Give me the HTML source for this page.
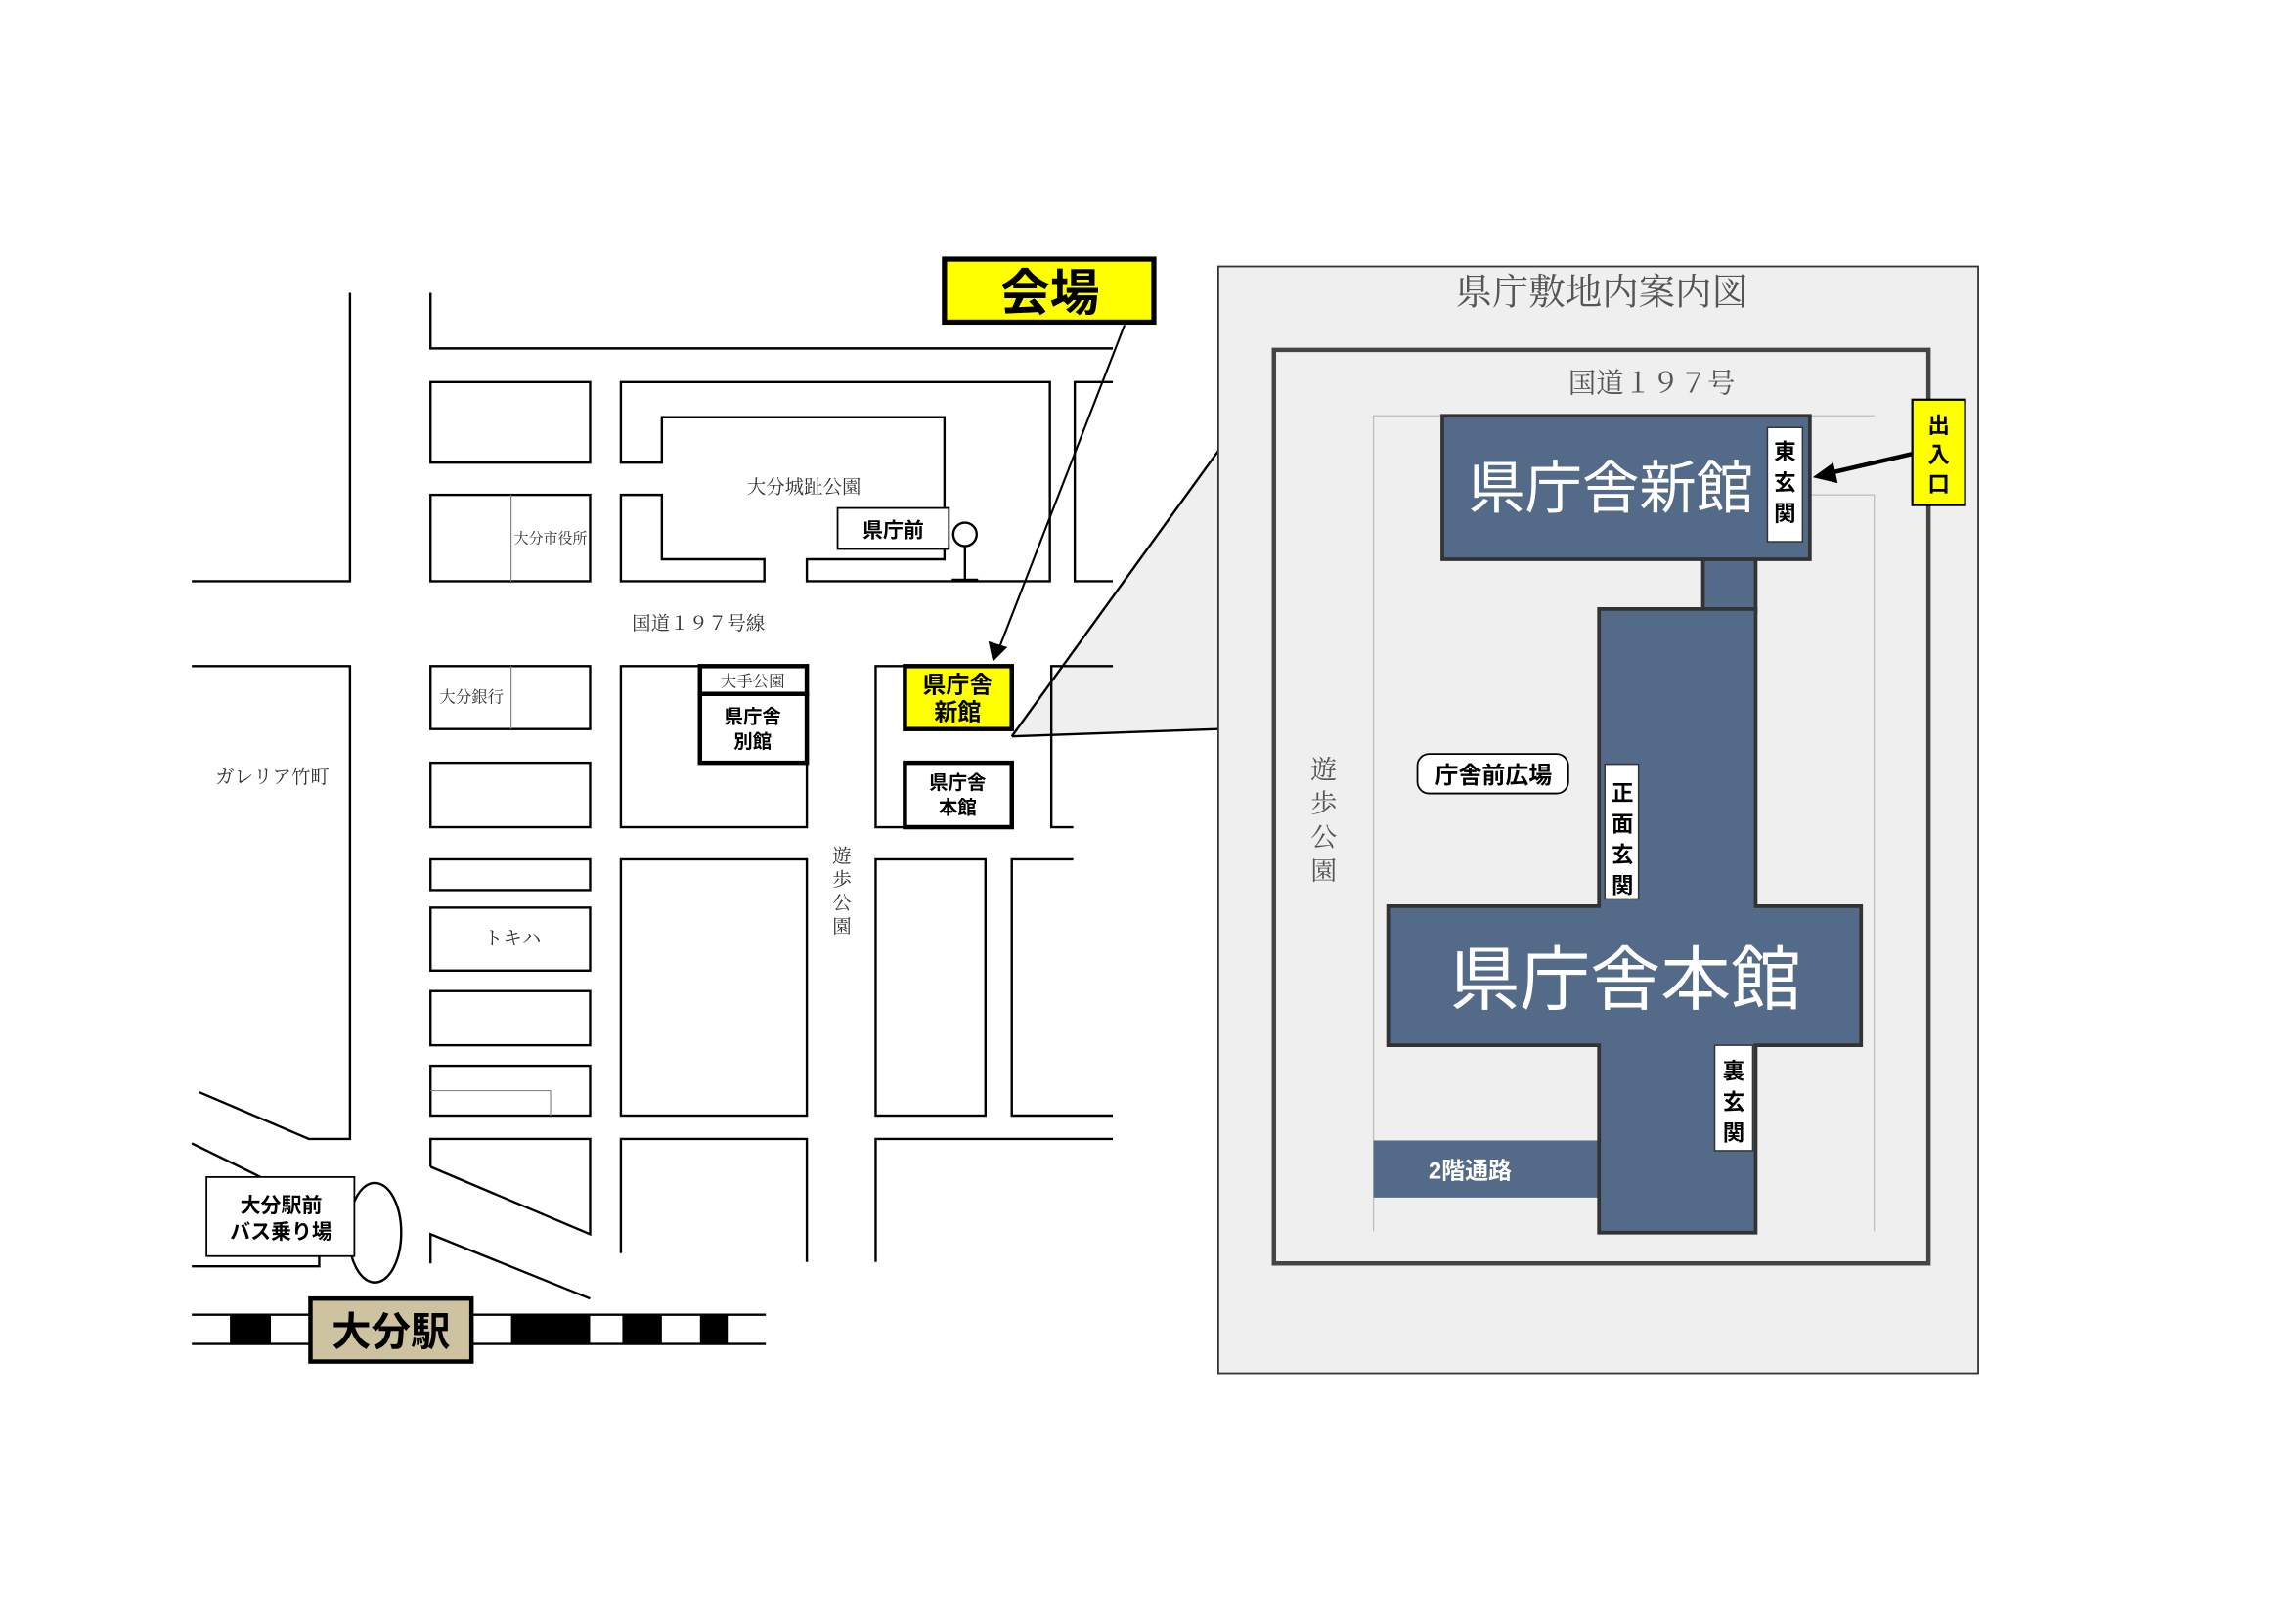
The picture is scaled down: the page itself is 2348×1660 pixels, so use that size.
<!DOCTYPE html>
<html><head><meta charset="utf-8"><style>
html,body{margin:0;padding:0;background:#fff;}
svg{display:block;}
.j{font-family:"Liberation Sans","Noto Sans CJK JP",sans-serif;}
.s{font-family:"Liberation Serif","Noto Serif CJK SC",serif;}
</style></head><body>
<svg width="2348" height="1660" viewBox="0 0 1568 1108.6" preserveAspectRatio="none" xmlns="http://www.w3.org/2000/svg">
<rect width="1568" height="1109" fill="#fff"/>
<polygon points="691,503 832,308 832,498" fill="#efefef"/>
<g fill="none" stroke="#000" stroke-width="1.6">
<polyline points="239,200 239,397 131,397"/>
<polyline points="294,200 294,238 760,238"/>
<rect x="294" y="261" width="109" height="55"/>
<rect x="294" y="338" width="109" height="59"/>
<path d="M424,316 V261 H717 V397 H551 V382 H645 V285 H452 V316 Z"/>
<path d="M424,338 H452 V382 H522 V397 H424 Z"/>
<polyline points="760,261 734,261 734,397 760,397"/>
<polyline points="131,455 239,455 239,778 211,778 136,746"/>
<rect x="294" y="455" width="109" height="43"/>
<rect x="294" y="521" width="109" height="44"/>
<rect x="294" y="587" width="109" height="21"/>
<rect x="294" y="620" width="109" height="43"/>
<rect x="294" y="677" width="109" height="37"/>
<rect x="294" y="728" width="109" height="34"/>
<rect x="424" y="455" width="127" height="110"/>
<rect x="424" y="587" width="127" height="175"/>
<polyline points="618,455 598,455 598,565 618,565"/>
<polyline points="760,455 718,455 718,565 733,565"/>
<rect x="598" y="587" width="75" height="175"/>
<polyline points="733,587 691,587 691,762 760,762"/>
<polyline points="294,797 294,778 403,778 403,843 294,797"/>
<polyline points="294,863 294,843 403,887"/>
<polyline points="424,856 424,778 551,778 551,862"/>
<polyline points="598,862 598,778 760,778"/>
<line x1="131" y1="781" x2="178" y2="804"/>
<polyline points="131,865 218,865 218,858"/>
<ellipse cx="256" cy="842" rx="18" ry="34"/>
<line x1="131" y1="898" x2="523" y2="898"/>
<line x1="131" y1="918" x2="523" y2="918"/>
<line x1="691" y1="503" x2="832" y2="308"/>
<line x1="691" y1="503" x2="832" y2="498"/>
<line x1="659" y1="373" x2="659" y2="396"/>
<line x1="650" y1="396" x2="668" y2="396"/>
<circle cx="659" cy="365" r="8"/>
</g>
<g stroke="#888" stroke-width="0.8" fill="none">
<line x1="349" y1="338" x2="349" y2="397"/>
<line x1="349" y1="455" x2="349" y2="498"/>
<polyline points="294,745 376,745 376,762"/>
</g>
<g fill="#000">
<rect x="157" y="898" width="28" height="20"/>
<rect x="349" y="898" width="54" height="20"/>
<rect x="425" y="898" width="27" height="20"/>
<rect x="478" y="898" width="19" height="20"/>
</g>
<rect x="212" y="887" width="110" height="43" fill="#cdc3a0" stroke="#000" stroke-width="3"/>
<text x="267" y="919" class="j" font-size="27" font-weight="bold" text-anchor="middle">大分駅</text>
<rect x="141" y="804" width="101" height="54" fill="#fff" stroke="#000" stroke-width="1.2"/>
<text x="192" y="828" class="j" font-size="14" font-weight="bold" text-anchor="middle">大分駅前</text>
<text x="192" y="846" class="j" font-size="14" font-weight="bold" text-anchor="middle">バス乗り場</text>
<rect x="572" y="347" width="76" height="28" fill="#fff" stroke="#000" stroke-width="1.2"/>
<text x="610" y="367" class="j" font-size="14" font-weight="bold" text-anchor="middle">県庁前</text>
<rect x="478" y="455" width="73" height="19" fill="#fff" stroke="#000" stroke-width="3"/>
<text x="514" y="469" class="s" font-size="11" text-anchor="middle" fill="#333">大手公園</text>
<rect x="478" y="474" width="73" height="47" fill="#fff" stroke="#000" stroke-width="3"/>
<text x="514" y="494" class="j" font-size="13" font-weight="bold" text-anchor="middle">県庁舎</text>
<text x="514" y="511" class="j" font-size="13" font-weight="bold" text-anchor="middle">別館</text>
<rect x="618" y="455" width="73" height="43" fill="#ffff00" stroke="#000" stroke-width="3"/>
<text x="654" y="473" class="j" font-size="16" font-weight="bold" text-anchor="middle">県庁舎</text>
<text x="654" y="492" class="j" font-size="16" font-weight="bold" text-anchor="middle">新館</text>
<rect x="618" y="521" width="73" height="44" fill="#fff" stroke="#000" stroke-width="3"/>
<text x="654" y="539" class="j" font-size="13" font-weight="bold" text-anchor="middle">県庁舎</text>
<text x="654" y="556" class="j" font-size="13" font-weight="bold" text-anchor="middle">本館</text>
<g class="s" fill="#333">
<text x="549" y="337" font-size="13" text-anchor="middle">大分城趾公園</text>
<text x="376" y="371" font-size="10" text-anchor="middle">大分市役所</text>
<text x="477" y="430" font-size="13" text-anchor="middle">国道１９７号線</text>
<text x="322" y="480" font-size="11" text-anchor="middle">大分銀行</text>
<text x="186" y="535" font-size="13" text-anchor="middle">ガレリア竹町</text>
<text x="350" y="645" font-size="13" text-anchor="middle">トキハ</text>
<text x="575" y="589" font-size="13" text-anchor="middle">遊</text>
<text x="575" y="605" font-size="13" text-anchor="middle">歩</text>
<text x="575" y="621" font-size="13" text-anchor="middle">公</text>
<text x="575" y="637" font-size="13" text-anchor="middle">園</text>
</g>
<rect x="645" y="177" width="143" height="43" fill="#ffff00" stroke="#000" stroke-width="3.5"/>
<text x="717" y="212" class="j" font-size="34" font-weight="bold" text-anchor="middle">会場</text>
<line x1="768" y1="222" x2="683" y2="441" stroke="#000" stroke-width="1.4"/>
<polygon points="678,452 675,438 688,442" fill="#000"/>
<rect x="832" y="182" width="519" height="756" fill="#efefef" stroke="#333" stroke-width="1.2"/>
<text x="1094" y="208" class="s" font-size="25" fill="#555" text-anchor="middle">県庁敷地内案内図</text>
<rect x="870" y="239" width="447" height="624" fill="#efefef" stroke="#444" stroke-width="3"/>
<text x="1128" y="268" class="s" font-size="19" fill="#555" text-anchor="middle">国道１９７号</text>
<g stroke="#bbb" stroke-width="0.8" fill="none">
<polyline points="938,841 938,284 985,284"/>
<polyline points="1236,338 1280,338 1280,841"/>
<line x1="1236" y1="284" x2="1280" y2="284"/>
</g>
<g fill="#546a89" stroke="#333" stroke-width="2.5">
<rect x="938" y="779" width="160" height="39" stroke="none"/>
<rect x="1163" y="380" width="36" height="38"/>
<path d="M1092,416 H1199 V619 H1271 V714 H1199 V842 H1092 V714 H948 V619 H1092 Z"/>
<rect x="985" y="284" width="251" height="98"/>
</g>
<text x="1100" y="347" class="j" font-size="39" fill="#fff" text-anchor="middle">県庁舎新館</text>
<text x="1110" y="686" class="j" font-size="48" fill="#fff" text-anchor="middle">県庁舎本館</text>
<text x="1004" y="805" class="j" font-size="16" font-weight="bold" fill="#fff" text-anchor="middle">2階通路</text>
<rect x="1207" y="292" width="24" height="78" fill="#fff" stroke="#333" stroke-width="1"/>
<g class="j" font-size="15" font-weight="bold" text-anchor="middle">
<text x="1219" y="314">東</text><text x="1219" y="335">玄</text><text x="1219" y="356">関</text>
</g>
<rect x="1096" y="522" width="23" height="92" fill="#fff" stroke="#333" stroke-width="1"/>
<g class="j" font-size="15" font-weight="bold" text-anchor="middle">
<text x="1108" y="547">正</text><text x="1108" y="568">面</text><text x="1108" y="589">玄</text><text x="1108" y="610">関</text>
</g>
<rect x="1171" y="714" width="26" height="72" fill="#fff" stroke="#333" stroke-width="1"/>
<g class="j" font-size="15" font-weight="bold" text-anchor="middle">
<text x="1184" y="737">裏</text><text x="1184" y="758">玄</text><text x="1184" y="779">関</text>
</g>
<rect x="968" y="515" width="103" height="27" rx="8" fill="#fff" stroke="#000" stroke-width="1.2"/>
<text x="1020" y="535" class="j" font-size="16" font-weight="bold" text-anchor="middle">庁舎前広場</text>
<g class="s" font-size="18" fill="#555" text-anchor="middle">
<text x="904" y="532">遊</text><text x="904" y="555">歩</text><text x="904" y="578">公</text><text x="904" y="601">園</text>
</g>
<rect x="1306" y="273" width="36" height="72" fill="#ffff00" stroke="#000" stroke-width="1.5"/>
<g class="j" font-size="15" font-weight="bold" text-anchor="middle">
<text x="1324" y="296">出</text><text x="1324" y="316">入</text><text x="1324" y="336">口</text>
</g>
<line x1="1306" y1="310" x2="1250" y2="323" stroke="#000" stroke-width="3"/>
<polygon points="1238,326 1252,316 1255,330" fill="#000"/>
</svg>
</body></html>
